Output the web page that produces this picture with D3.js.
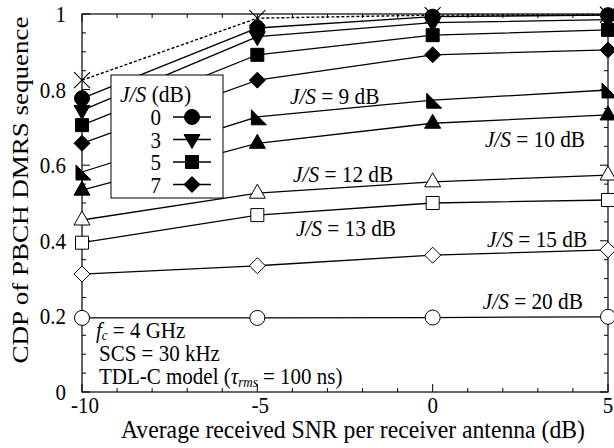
<!DOCTYPE html>
<html><head><meta charset="utf-8">
<script src="https://cdn.jsdelivr.net/npm/d3@7"></script>
<style>body{margin:0;background:#fff}svg{display:block}</style>
</head><body><svg id="c" width="614" height="448" style="font-family:'Liberation Serif','Times New Roman',Times,serif"></svg>
<script>
// ---- data ----
const snr = [-10, -5, 0, 5];
const seriesNames = ["none", "0", "3", "5", "7", "9", "10", "12", "13", "15", "20"];
const markerTypes = ["x", "circle", "tridown", "square", "diamond", "rtri", "triup", "triup", "square", "diamond", "circle"];
const markerFilled = [false, true, true, true, true, true, true, false, false, false, false];
const vNone = [0.825, 0.989, 0.997, 0.998];
const v0 = [0.777, 0.963, 0.993, 0.997];
const v3 = [0.745, 0.940, 0.977, 0.985];
const v5 = [0.706, 0.892, 0.944, 0.958];
const v7 = [0.658, 0.825, 0.892, 0.905];
const v9 = [0.582, 0.728, 0.772, 0.799];
const v10 = [0.534, 0.658, 0.711, 0.733];
const v12 = [0.455, 0.526, 0.556, 0.574];
const v13 = [0.395, 0.468, 0.500, 0.508];
const v15 = [0.312, 0.334, 0.362, 0.376];
const v20 = [0.196, 0.196, 0.197, 0.199];
const seriesValues = [vNone, v0, v3, v5, v7, v9, v10, v12, v13, v15, v20];
const legendNames = ["0", "3", "5", "7"];
const annoText = ["9", "10", "12", "13", "15", "20"];
const annoX = [-4.07, 1.49, -3.98, -3.9, 1.55, 1.43];
const annoY = [0.762, 0.648, 0.556, 0.413, 0.384, 0.220];
const xTicks = [-10, -5, 0, 5];
const yTicks = [0, 0.2, 0.4, 0.6, 0.8, 1];
const yTickLabels = ["0", "0.2", "0.4", "0.6", "0.8", "1"];

// ---- layout ----
const FONT = "'Liberation Serif','Times New Roman',Times,serif";
const SY = 1.1; // glyphs in the reference are vertically stretched
const L = 82, R = 608, T = 14, B = 392;
const svg = d3.select("#c").attr("font-family", FONT);
const x = d3.scaleLinear().domain([-10, 5]).range([L, R]);
const y = d3.scaleLinear().domain([0, 1]).range([B, T]);

function txt(g, px, py, size, anchor) {
  return g.append("text").attr("font-family", FONT).attr("fill", "#000")
    .attr("font-size", size).attr("text-anchor", anchor || "start")
    .attr("transform", `translate(${px},${py}) scale(1,${SY})`);
}

function markerPath(type) {
  const p = d3.path();
  if (type === "circle") { p.arc(0, 0, 7.5, 0, 2 * Math.PI); }
  else if (type === "square") { p.rect(-6.5, -6.5, 13, 13); }
  else if (type === "diamond") { p.moveTo(0, -8); p.lineTo(8, 0); p.lineTo(0, 8); p.lineTo(-8, 0); p.closePath(); }
  else if (type === "triup") { p.moveTo(0, -9); p.lineTo(8, 5); p.lineTo(-8, 5); p.closePath(); }
  else if (type === "tridown") { p.moveTo(0, 9); p.lineTo(8, -5); p.lineTo(-8, -5); p.closePath(); }
  else if (type === "rtri") { p.moveTo(-6, -7); p.lineTo(9, 8); p.lineTo(-6, 8); p.closePath(); }
  else if (type === "x") { p.moveTo(-8, -8); p.lineTo(8, 8); p.moveTo(8, -8); p.lineTo(-8, 8); }
  return p.toString();
}
function drawMarker(g, type, filled, cx, cy) {
  g.append("path").attr("d", markerPath(type))
    .attr("transform", `translate(${cx},${cy})`)
    .attr("fill", type === "x" ? "none" : (filled ? "#000" : "#fff"))
    .attr("stroke", "#000").attr("stroke-width", type === "x" ? 1.1 : 1);
}

// ---- axes box & ticks ----
const ax = svg.append("g");
ax.append("rect").attr("x", L).attr("y", T).attr("width", R - L).attr("height", B - T)
  .attr("fill", "none").attr("stroke", "#000").attr("stroke-width", 1.2);
const xMinor = d3.range(-10, 5.01, 1);
const yMinor = d3.range(0, 1.001, 0.05);
xMinor.forEach(v => {
  const major = Math.abs(v % 5) < 1e-6;
  const len = major ? 8 : 4;
  ax.append("line").attr("x1", x(v)).attr("x2", x(v)).attr("y1", B).attr("y2", B - len).attr("stroke", "#000");
  ax.append("line").attr("x1", x(v)).attr("x2", x(v)).attr("y1", T).attr("y2", T + len).attr("stroke", "#000");
});
yMinor.forEach(v => {
  const major = Math.abs(Math.round(v * 100) % 20) < 1e-6;
  const len = major ? 8 : 4;
  ax.append("line").attr("y1", y(v)).attr("y2", y(v)).attr("x1", L).attr("x2", L + len).attr("stroke", "#000");
  ax.append("line").attr("y1", y(v)).attr("y2", y(v)).attr("x1", R).attr("x2", R - len).attr("stroke", "#000");
});
xTicks.forEach(v => {
  txt(ax, x(v) + (v < 0 ? 3 : 0), 413, 21, "middle").text(v);
});
yTicks.forEach((v, i) => {
  txt(ax, 66, y(v) + 8, 21, "end").text(yTickLabels[i]);
});
txt(svg, 353, 438, 23.7, "middle").text("Average received SNR per receiver antenna (dB)");
svg.append("text").attr("font-family", FONT).attr("fill", "#000").attr("font-size", 23.5)
  .attr("text-anchor", "middle")
  .attr("transform", `translate(28,190) scale(1,1.15) rotate(-90)`)
  .text("CDP of PBCH DMRS sequence");

// ---- series ----
const line = d3.line().x((d, i) => x(snr[i])).y(d => y(d));
const gl = svg.append("g");
seriesValues.forEach((vals, si) => {
  gl.append("path").attr("d", line(vals)).attr("fill", "none").attr("stroke", "#000")
    .attr("stroke-width", si === 0 ? 1.4 : 1.3)
    .attr("stroke-dasharray", si === 0 ? "3,2" : null);
});
seriesValues.forEach((vals, si) => {
  vals.forEach((v, i) => drawMarker(gl, markerTypes[si], markerFilled[si], x(snr[i]), y(v)));
});

// ---- annotations ----
annoText.forEach((t, i) => {
  const tx = txt(svg, x(annoX[i]), y(annoY[i]), 21.3);
  tx.append("tspan").attr("font-style", "italic").text("J/S");
  tx.append("tspan").text(" = " + t + " dB");
});

// ---- legend ----
const lg = svg.append("g");
lg.append("rect").attr("x", 111).attr("y", 75).attr("width", 112).attr("height", 123)
  .attr("fill", "#fff").attr("stroke", "#000").attr("stroke-width", 1);
const lt = txt(lg, 120, 102, 21.5);
lt.append("tspan").attr("font-style", "italic").text("J/S");
lt.append("tspan").text(" (dB)");
legendNames.forEach((n, i) => {
  const cy = 117 + i * 22.5;
  const si = seriesNames.indexOf(n);
  txt(lg, 161, cy + 8, 21, "end").text(n);
  lg.append("line").attr("x1", 173).attr("x2", 211).attr("y1", cy).attr("y2", cy).attr("stroke", "#000").attr("stroke-width", 1.3);
  drawMarker(lg, markerTypes[si], markerFilled[si], 192, cy);
});

// ---- info text ----
const info = svg.append("g");
const t1 = txt(info, 96, 338, 21);
t1.append("tspan").attr("font-style", "italic").text("f");
t1.append("tspan").attr("font-style", "italic").attr("font-size", 13).attr("dy", 2).text("c");
t1.append("tspan").attr("dy", -2).text(" = 4 GHz");
txt(info, 99, 361, 21).text("SCS = 30 kHz");
const t3 = txt(info, 99, 384, 21);
t3.append("tspan").text("TDL-C model (");
t3.append("tspan").attr("font-style", "italic").text("τ");
t3.append("tspan").attr("font-style", "italic").attr("font-size", 13).attr("dy", 3).text("rms");
t3.append("tspan").attr("dy", -3).text(" = 100 ns)");
</script></body></html>
